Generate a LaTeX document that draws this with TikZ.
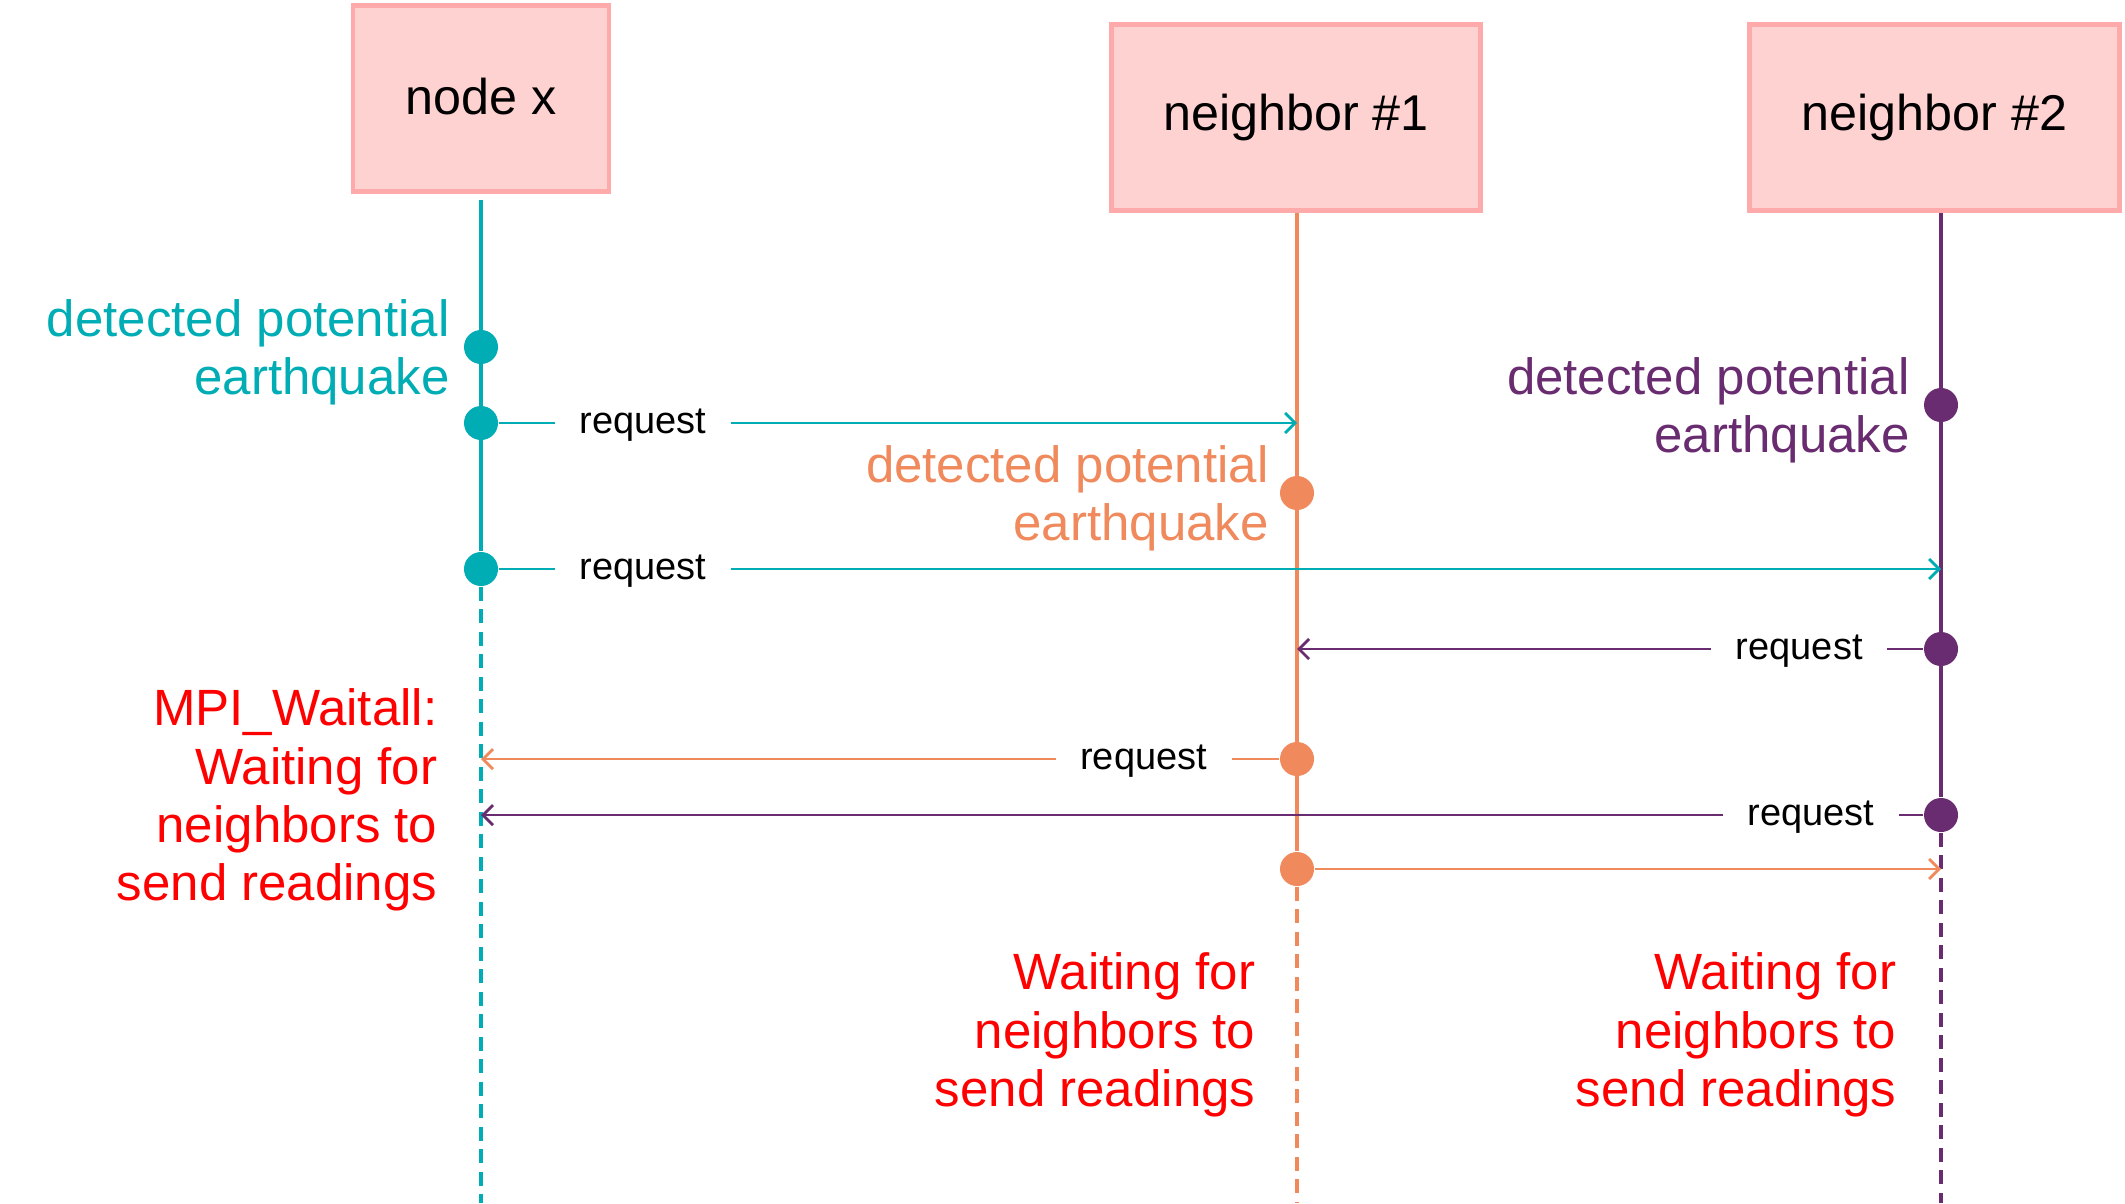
\documentclass[tikz,border=0pt]{standalone}
\usepackage{fontspec}
\setmainfont{Liberation Sans}
\usepackage{tikz}
\usetikzlibrary{positioning}
\usetikzlibrary{arrows.meta}
\tikzset{>={Straight Barb[width=2mm,length=1mm]}}
\definecolor{xteal}{HTML}{00ADB5}
\definecolor{xorange}{HTML}{F08A5D}
\definecolor{xpurple}{HTML}{6A2C70}
\definecolor{boxfill}{HTML}{FFD2D2}
\definecolor{boxline}{HTML}{FFAAAA}

\begin{document}
\begin{tikzpicture}[x=0.01cm,y=-0.01cm]
    \tikzstyle{pnode} = [draw=boxline, fill=boxfill, line width=1.3pt, minimum width=3.69cm, minimum height=1.86cm, font=\fontsize{14.3}{17}\selectfont]
    \tikzstyle{evt} = [circle, minimum size=0.34cm, inner sep=0pt]
    \tikzstyle{note} = [align=right, inner sep=0pt, yshift=-0.05cm, font=\fontsize{14.5}{16.6}\selectfont]
    \tikzstyle{msg} = [->, line width=0.8pt]
    \tikzstyle{lbl} = [fill=white, text=black, inner xsep=7pt, inner ysep=1pt, yshift=-0.025cm, font=\fontsize{10.8}{13}\selectfont]
    \tikzstyle{lifeline} = [line width=1.3pt]
    \tikzstyle{idle} = [line width=1.25pt, dash pattern=on 4pt off 2.4pt]

    \useasboundingbox (0,0) rectangle (2125,1203);
    \coordinate (bot) at (0,1203);

    \node[pnode, minimum width=2.56cm] (nx) at (481,98.5) {\raisebox{0.05cm}{node x}};
    \node[pnode] (n1) at (1296,117.5) {neighbor \#1};
    \node[pnode, minimum width=3.70cm] (n2) at (1934.5,117.5) {neighbor \#2};

    % events on the lifelines
    \node[evt, fill=xteal] (a1) at (481,347) {};
    \node[evt, fill=xteal] (a2) at (481,423) {};
    \node[evt, fill=xteal] (a3) at (481,569) {};
    \node[evt, fill=xorange] (b1) at (1297,493) {};
    \node[evt, fill=xorange] (b2) at (1297,759) {};
    \node[evt, fill=xorange] (b3) at (1297,869) {};
    \node[evt, fill=xpurple] (c1) at (1941,405) {};
    \node[evt, fill=xpurple] (c2) at (1941,649) {};
    \node[evt, fill=xpurple] (c3) at (1941,815) {};

    % lifelines
    \draw[lifeline, xteal, shorten <=0.06cm] (nx.south) -- (a3);
    \draw[idle, xteal] (a3) -- (a3 |- bot);
    \draw[lifeline, xorange, line width=0.9pt] (n1.south -| b1) -- (b3);
    \draw[idle, xorange, line width=1pt] (b3) -- (b3 |- bot);
    \draw[lifeline, xpurple] (n2.south -| c1) -- (c3);
    \draw[idle, xpurple] (c3) -- (c3 |- bot);

    % messages
    \draw[msg, xteal] (a2) -- node[lbl, pos=.181] {request} (a2 -| b1);
    \draw[msg, xteal] (a3) -- node[lbl, pos=.1] {request} (a3 -| c1);
    \draw[msg, xpurple] (c2) -- node[lbl, pos=.198] {request} (c2 -| b1);
    \draw[msg, xorange] (b2) -- node[lbl, pos=.17] {request} (b2 -| a1);
    \draw[msg, xpurple] (c3) -- node[lbl, pos=.078] {request} (c3 -| a1);
    \draw[msg, xorange] (b3) -- (b3 -| c1);

    % notes
    \node[note, text=xteal, left=0.13cm of a1] (t1) {detected potential\\earthquake};
    \node[note, text=xorange, left=0.1cm of b1] (t2) {detected potential\\earthquake};
    \node[note, text=xpurple, left=0.13cm of c1] (t3) {detected potential\\earthquake};
    \node[note, text=red, anchor=east] (w0) at (438,795) {MPI\_Waitall:\\Waiting for\\neighbors to\\send readings};
    \node[note, text=red, anchor=east] (w1) at (1256,1030) {Waiting for\\neighbors to\\send readings};
    \node[note, text=red, anchor=east] (w2) at (1897,1030) {Waiting for\\neighbors to\\send readings};
\end{tikzpicture}
\end{document}
